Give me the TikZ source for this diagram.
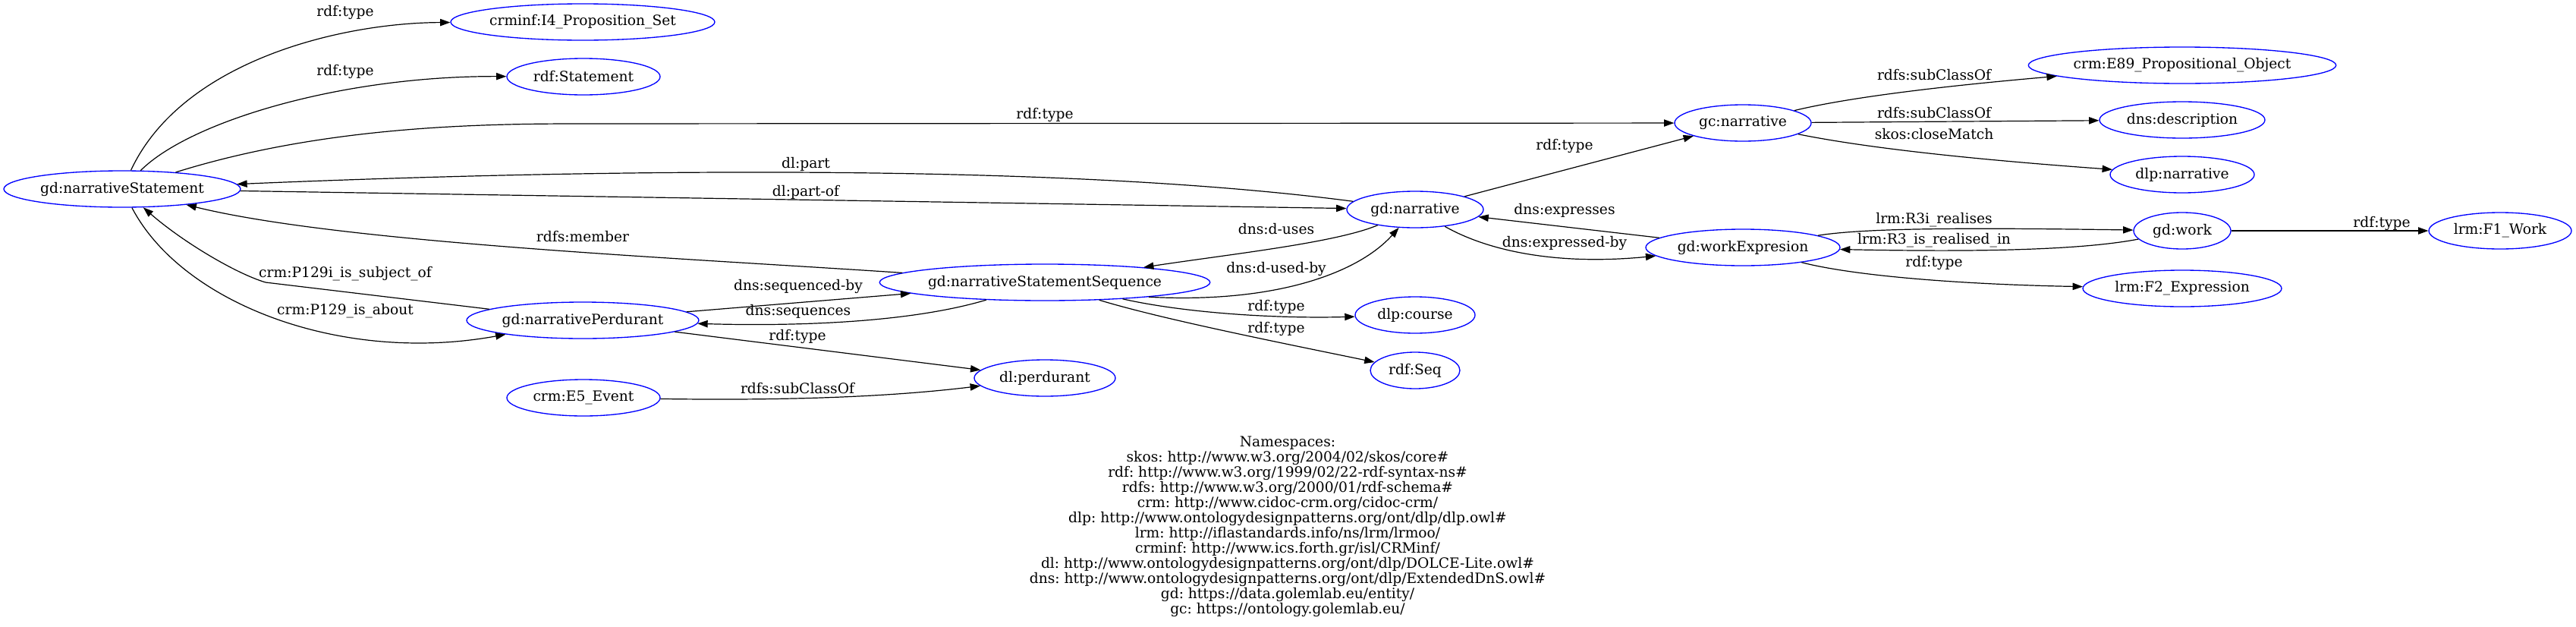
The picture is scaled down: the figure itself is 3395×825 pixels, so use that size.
\documentclass[tikz,border=0pt]{standalone}
\usepackage{fontspec}
\setmainfont{DejaVu Serif}
\usetikzlibrary{arrows.meta,shapes.geometric}
\definecolor{Ink}{HTML}{000000}
\definecolor{NodeBlue}{HTML}{0000FF}
\frenchspacing
\tikzset{
  entity/.style={
    ellipse, draw=NodeBlue, line width=1pt, inner sep=0pt,
    minimum height=36pt, minimum width=#1
  },
  flow/.style={-{Triangle[length=10pt,width=7pt]}, line width=0.9pt, draw=Ink},
  rel/.style={inner sep=0pt, text=Ink}
}
\begin{document}
\begin{tikzpicture}[x=0.75pt,y=-0.75pt,
          every node/.style={font=\fontsize{14}{15}\selectfont}]
  \useasboundingbox (0,0) rectangle (3395,825);
  \node[entity=234pt] (ns) at (161,249) {gd:narrativeStatement};
  \node[entity=261pt] (i4) at (768,29) {crminf:I4\_Proposition\_Set};
  \node[entity=151.5pt] (stmt) at (769,101) {rdf:Statement};
  \node[entity=229.5pt] (np) at (768,422) {gd:narrativePerdurant};
  \node[entity=151.5pt] (e5) at (769,524) {crm:E5\_Event};
  \node[entity=322.5pt] (nss) at (1377,372) {gd:narrativeStatementSequence};
  \node[entity=139.5pt] (perd) at (1377,498) {dl:perdurant};
  \node[entity=135pt] (narr) at (1865,276) {gd:narrative};
  \node[entity=118.5pt] (course) at (1865,415) {dlp:course};
  \node[entity=88.5pt] (seq) at (1865,488) {rdf:Seq};
  \node[entity=135pt] (gcnarr) at (2297,162) {gc:narrative};
  \node[entity=192pt] (wexp) at (2297,326) {gd:workExpresion};
  \node[entity=301.5pt] (e89) at (2876,86) {crm:E89\_Propositional\_Object};
  \node[entity=163.5pt] (descr) at (2876,158) {dns:description};
  \node[entity=142.5pt] (dlpnarr) at (2876,230) {dlp:narrative};
  \node[entity=96pt] (work) at (2876,304) {gd:work};
  \node[entity=196.5pt] (f2) at (2876,380) {lrm:F2\_Expression};
  \node[entity=141pt] (f1) at (3295,304) {lrm:F1\_Work};

  \draw[flow] (ns) .. controls (240,80) and (450,30) .. (i4) node[rel] at (455,16) {rdf:type};
  \draw[flow] (ns) .. controls (250,160) and (450,100) .. (stmt) node[rel] at (455,94) {rdf:type};
  \draw[flow] (ns) .. controls (420,168) and (620,163) .. (760,163) -- (gcnarr) node[rel] at (1377,151) {rdf:type};
  \draw[flow] (narr) .. controls (1400,215) and (800,222) .. (ns) node[rel] at (1062,216) {dl:part};
  \draw[flow] (ns) -- (narr) node[rel] at (1062,253) {dl:part-of};
  \draw[flow] (nss) .. controls (900,340) and (450,320) .. (ns) node[rel] at (768,312) {rdfs:member};
  \draw[flow] (np) -- (350,372) .. controls (310,360) and (240,318) .. (ns) node[rel] at (455,361) {crm:P129i\_is\_subject\_of};
  \draw[flow] (ns) .. controls (240,400) and (450,480) .. (np) node[rel] at (455,410) {crm:P129\_is\_about};
  \draw[flow] (np) -- (nss) node[rel] at (1052,377) {dns:sequenced-by};
  \draw[flow] (nss) .. controls (1200,425) and (1050,430) .. (np) node[rel] at (1052,410) {dns:sequences};
  \draw[flow] (np) -- (perd) node[rel] at (1051,443) {rdf:type};
  \draw[flow] (e5) .. controls (1050,528) and (1180,522) .. (perd) node[rel] at (1051,512) {rdfs:subClassOf};
  \draw[flow] (narr) .. controls (1760,320) and (1620,335) .. (nss) node[rel] at (1682,302) {dns:d-uses};
  \draw[flow] (nss.-8) .. controls (1680,400) and (1790,360) .. (narr) node[rel] at (1682,354) {dns:d-used-by};
  \draw[flow] (nss.-12) .. controls (1560,412) and (1680,420) .. (course) node[rel] at (1682,404) {rdf:type};
  \draw[flow] (nss.-18) .. controls (1530,420) and (1680,450) .. (seq) node[rel] at (1682,433) {rdf:type};
  \draw[flow] (narr) -- (gcnarr) node[rel] at (2062,192) {rdf:type};
  \draw[flow] (wexp) -- (narr) node[rel] at (2062,277) {dns:expresses};
  \draw[flow] (narr) .. controls (1960,330) and (2050,350) .. (wexp) node[rel] at (2062,320) {dns:expressed-by};
  \draw[flow] (gcnarr) .. controls (2450,125) and (2600,110) .. (e89) node[rel] at (2549,99) {rdfs:subClassOf};
  \draw[flow] (gcnarr) -- (descr) node[rel] at (2549,149) {rdfs:subClassOf};
  \draw[flow] (gcnarr) .. controls (2460,195) and (2600,210) .. (dlpnarr) node[rel] at (2549,177) {skos:closeMatch};
  \draw[flow] (wexp) .. controls (2460,300) and (2600,300) .. (work) node[rel] at (2549,290) {lrm:R3i\_realises};
  \draw[flow] (work) .. controls (2740,330) and (2600,332) .. (wexp) node[rel] at (2549,317) {lrm:R3\_is\_realised\_in};
  \draw[flow] (work) -- (f1) node[rel] at (3139,294) {rdf:type};
  \draw[flow] (wexp) .. controls (2450,365) and (2600,375) .. (f2) node[rel] at (2549,346) {rdf:type};

  \node[rel,align=center] (nslist) at (1697,694) {Namespaces:\\
    skos: http://www.w3.org/2004/02/skos/core\#\\
    rdf: http://www.w3.org/1999/02/22-rdf-syntax-ns\#\\
    rdfs: http://www.w3.org/2000/01/rdf-schema\#\\
    crm: http://www.cidoc-crm.org/cidoc-crm/\\
    dlp: http://www.ontologydesignpatterns.org/ont/dlp/dlp.owl\#\\
    lrm: http://iflastandards.info/ns/lrm/lrmoo/\\
    crminf: http://www.ics.forth.gr/isl/CRMinf/\\
    dl: http://www.ontologydesignpatterns.org/ont/dlp/DOLCE-Lite.owl\#\\
    dns: http://www.ontologydesignpatterns.org/ont/dlp/ExtendedDnS.owl\#\\
    gd: https://data.golemlab.eu/entity/\\
    gc: https://ontology.golemlab.eu/};
\end{tikzpicture}
\end{document}
